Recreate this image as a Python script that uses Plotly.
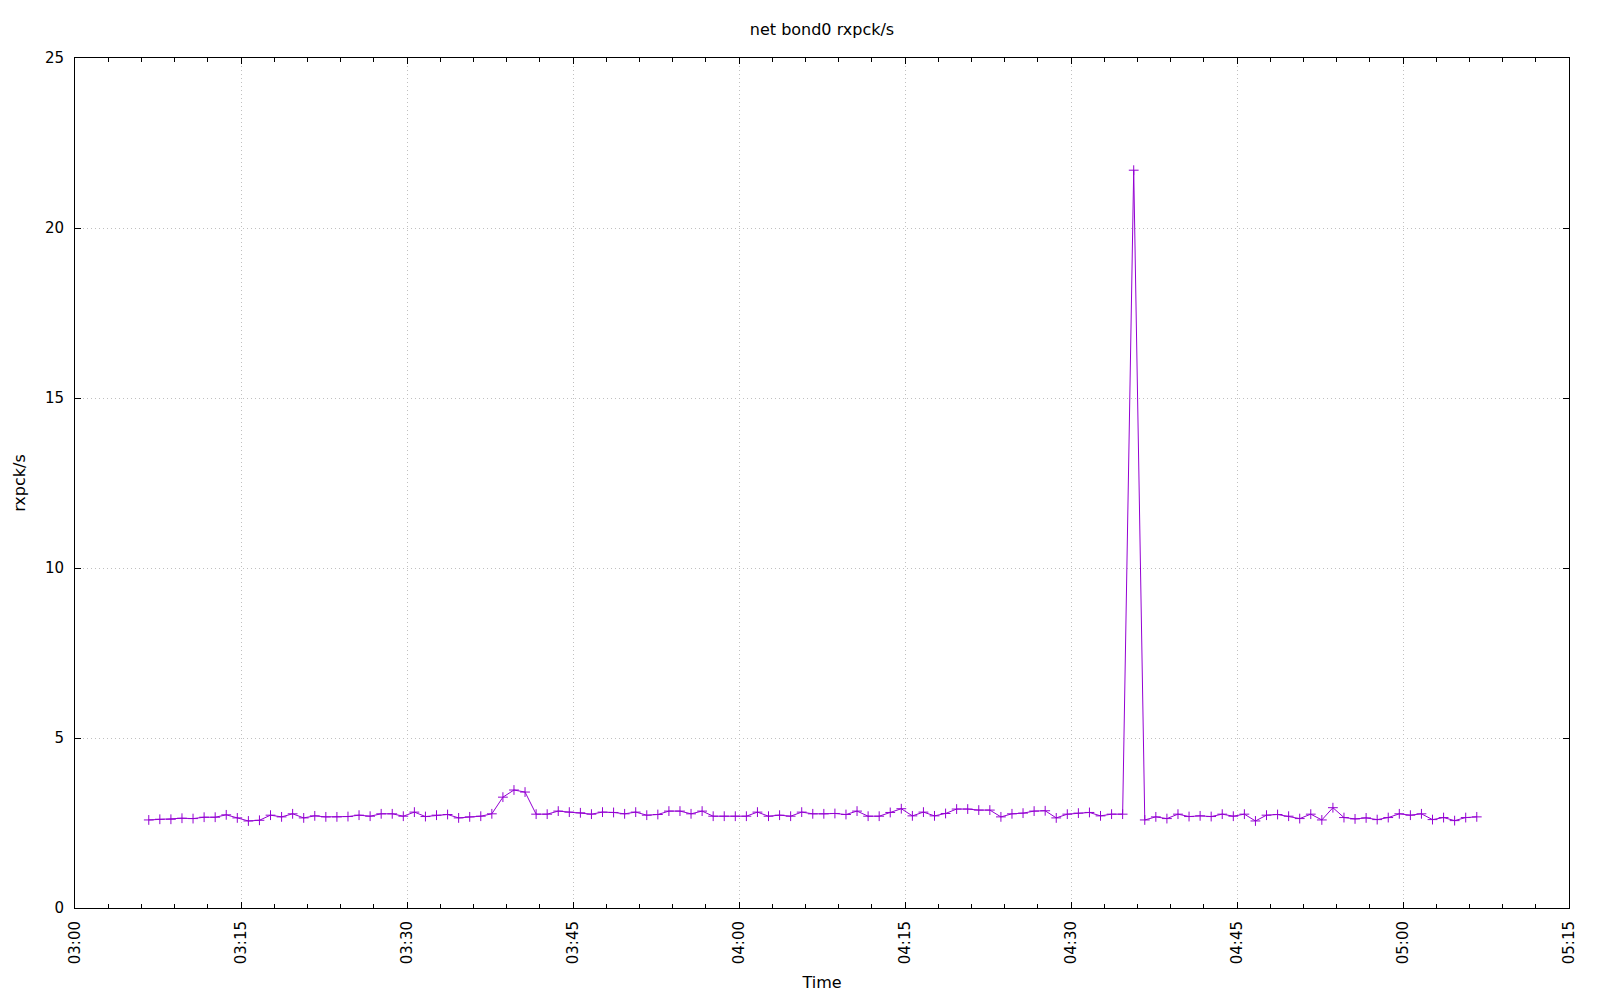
import datetime as dt
import plotly.graph_objects as go

start_time = "2024-01-01 03:06:40"
interval_seconds = 60
values = [
    2.59, 2.61, 2.61, 2.64, 2.63, 2.67, 2.67, 2.74, 2.65, 2.56,
    2.58, 2.73, 2.68, 2.77, 2.65, 2.71, 2.68, 2.68, 2.69, 2.73,
    2.70, 2.77, 2.77, 2.70, 2.82, 2.69, 2.73, 2.75, 2.65, 2.68,
    2.70, 2.77, 3.26, 3.47, 3.41, 2.76, 2.76, 2.85, 2.82, 2.80,
    2.76, 2.82, 2.81, 2.77, 2.82, 2.73, 2.75, 2.85, 2.85, 2.77,
    2.85, 2.70, 2.70, 2.70, 2.70, 2.82, 2.70, 2.73, 2.70, 2.82,
    2.77, 2.77, 2.78, 2.75, 2.85, 2.70, 2.70, 2.81, 2.92, 2.71,
    2.82, 2.71, 2.78, 2.91, 2.91, 2.88, 2.88, 2.68, 2.77, 2.79,
    2.85, 2.86, 2.65, 2.76, 2.79, 2.81, 2.71, 2.76, 2.76, 21.70,
    2.59, 2.68, 2.63, 2.76, 2.69, 2.71, 2.69, 2.76, 2.70, 2.76,
    2.56, 2.73, 2.75, 2.70, 2.63, 2.76, 2.59, 2.95, 2.66, 2.62,
    2.65, 2.60, 2.66, 2.77, 2.73, 2.77, 2.60, 2.66, 2.57, 2.66,
    2.68,
]
x_range = ["2024-01-01 03:00:00", "2024-01-01 05:15:00"]
title_text = "net bond0 rxpck/s"
x_title = "Time"
y_title = "rxpck/s"

t0 = dt.datetime.fromisoformat(start_time)
times = [t0 + dt.timedelta(seconds=interval_seconds * i) for i in range(len(values))]

color = "#9400D3"
font_family = "DejaVu Sans"
grid_color = "#c0c0c0"

# page body has an 8px margin; figure sized/margined to compensate
fig_w, fig_h = 1584, 984

fig = go.Figure()
fig.add_trace(go.Scatter(
    x=times, y=values, mode="lines+markers",
    line=dict(color=color, width=1),
    marker=dict(symbol="cross-thin", size=7, line=dict(color=color, width=1)),
    showlegend=False,
))

fig.update_layout(
    width=fig_w, height=fig_h,
    paper_bgcolor="white", plot_bgcolor="white",
    margin=dict(l=67, r=23, t=50, b=84, autoexpand=False),
    font=dict(family=font_family, size=15, color="black"),
    title=dict(text=title_text, x=0.5, xref="paper", xanchor="center", y=1 - 21 / fig_h,
               yanchor="middle", yref="container", font=dict(size=16)),
)
fig.update_xaxes(
    type="date", range=x_range, tickformat="%H:%M", dtick=15 * 60 * 1000,
    tick0="2024-01-01 03:00:00", automargin=False,
    tickangle=-90, ticks="inside", ticklen=6, tickcolor="black", tickwidth=1,
    showline=True, linecolor="black", linewidth=1, mirror="ticks",
    showgrid=True, gridcolor=grid_color, gridwidth=1, griddash="1px,3px",
    zeroline=False, ticklabelstandoff=6, tickfont=dict(size=15),
    minor=dict(dtick=3 * 60 * 1000, ticks="inside", ticklen=4, tickcolor="black", showgrid=False),
    title=dict(text=x_title, standoff=22, font=dict(size=16)),
)
fig.update_yaxes(
    range=[0, 25], dtick=5, ticks="inside", ticklen=6, tickcolor="black", tickwidth=1,
    showline=True, linecolor="black", linewidth=1, mirror="ticks", automargin=False,
    showgrid=True, gridcolor=grid_color, gridwidth=1, griddash="1px,3px",
    zeroline=False, ticklabelstandoff=7, tickfont=dict(size=15),
    title=dict(text=y_title, standoff=15, font=dict(size=16)),
)

fig.write_html("out.html")
